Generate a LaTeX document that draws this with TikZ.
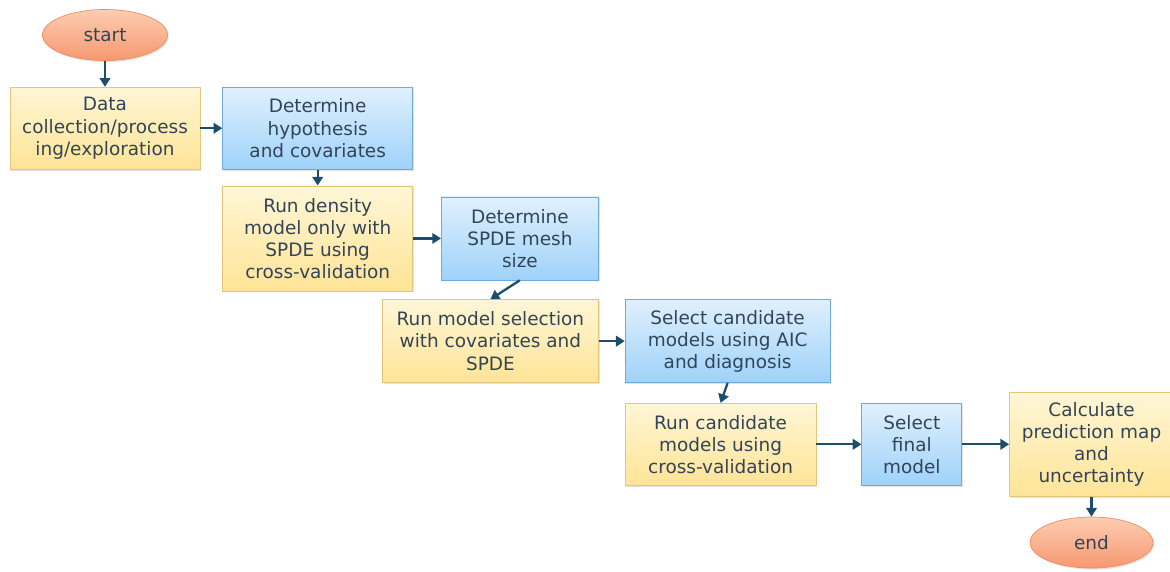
\documentclass[tikz,border=0pt]{standalone}
\usepackage{fontspec}
\setmainfont{DejaVu Sans}
\usepackage{tikz}
\usetikzlibrary{positioning,arrows.meta,shapes.geometric,shadows}
\definecolor{textslate}{RGB}{50,68,88}
\definecolor{arrowteal}{RGB}{28,78,108}
\definecolor{paleyellow}{RGB}{255,246,214}
\definecolor{deepyellow}{RGB}{255,228,150}
\definecolor{yellowdraw}{RGB}{228,198,120}
\definecolor{paleblue}{RGB}{224,240,253}
\definecolor{deepblue}{RGB}{158,210,250}
\definecolor{bluedraw}{RGB}{108,170,222}
\definecolor{paleorange}{RGB}{253,205,178}
\definecolor{deeporange}{RGB}{246,152,112}
\definecolor{orangedraw}{RGB}{240,140,92}

\begin{document}
\begin{tikzpicture}[node distance=.4cm,every node/.style={font=\fontsize{10.5}{12.6}\selectfont,text=textslate,align=center,inner sep=2pt},
  box/.style={draw=yellowdraw,top color=paleyellow,bottom color=deepyellow,minimum height=1.64cm,drop shadow={opacity=.22,shadow xshift=.7pt,shadow yshift=-.9pt}},
  bluebox/.style={box,draw=bluedraw,top color=paleblue,bottom color=deepblue},
  terminal/.style={ellipse,draw=orangedraw,top color=paleorange,bottom color=deeporange,minimum width=2.5cm,minimum height=1.02cm,drop shadow={opacity=.22,shadow xshift=.7pt,shadow yshift=-.9pt}},
  flow/.style={-{Triangle[length=5pt,width=6pt]},line width=1.3pt,draw=arrowteal}]
    \useasboundingbox (0,0) rectangle (23.4,-11.42);
    \node[terminal] (start) at (2.1,-.7) {start};
    \node[box,minimum width=3.8cm,below=.52cm of start] (data) {Data\\collection/process\\ing/exploration};
    \node[bluebox,minimum width=3.8cm,right=.44cm of data] (hyp) {Determine\\hypothesis\\and covariates};
    \node[box,minimum width=3.8cm,minimum height=2.1cm,below=.32cm of hyp] (density) {Run density\\model only with\\SPDE using\\cross-validation};
    \node[bluebox,minimum width=3.14cm,minimum height=1.66cm,right=.56cm of density] (mesh) {Determine\\SPDE mesh\\size};
    \node[box,minimum width=4.32cm,minimum height=1.66cm,below=.38cm of mesh.south east,anchor=north east] (select) {Run model selection\\with covariates and\\SPDE};
    \node[bluebox,minimum width=4.1cm,minimum height=1.66cm,right=.52cm of select] (cand) {Select candidate\\models using AIC\\and diagnosis};
    \node[box,minimum width=3.82cm,below=.4cm of cand.south west,anchor=north west] (runcand) {Run candidate\\models using\\cross-validation};
    \node[bluebox,minimum width=2cm,right=.9cm of runcand] (final) {Select\\final\\model};
    \node[box,minimum width=3.28cm,minimum height=2.08cm,right=.94cm of final] (calc) {Calculate\\prediction map\\and\\uncertainty};
    \node[terminal,minimum width=2.46cm,below=.4cm of calc] (end) {end};
    \draw[flow] (start)--(data);
    \draw[flow] (data)--(hyp);
    \draw[flow] (hyp)--(density);
    \draw[flow] (density)--(mesh);
    \draw[flow] (mesh.south)--(select.north);
    \draw[flow] (select)--(cand);
    \draw[flow] (cand.south)--(runcand.north);
    \draw[flow] (runcand)--(final);
    \draw[flow] (final)--(calc);
    \draw[flow] (calc)--(end);
  \end{tikzpicture}
\end{document}
